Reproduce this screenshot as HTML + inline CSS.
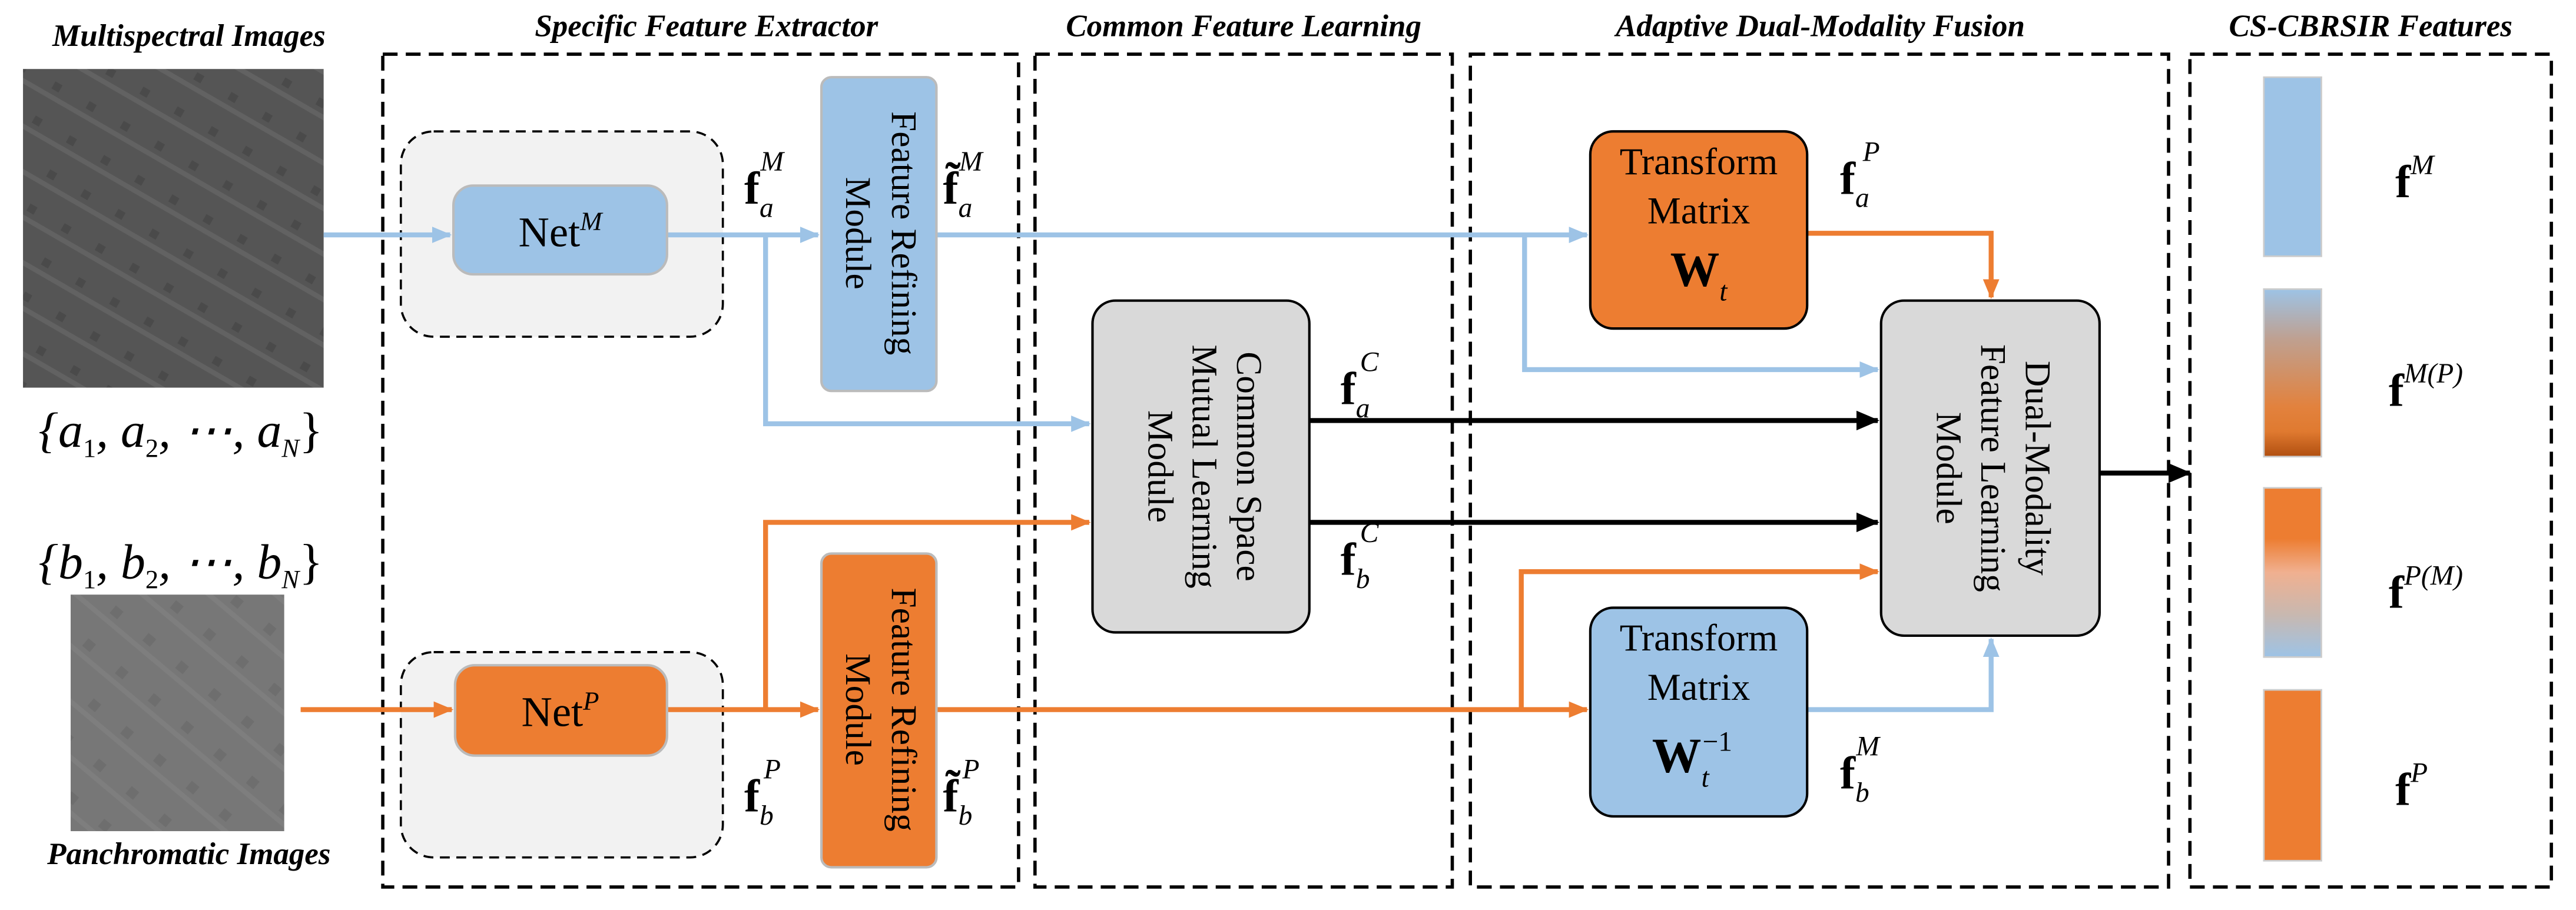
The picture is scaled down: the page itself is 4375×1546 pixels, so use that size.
<!DOCTYPE html>
<html><head><meta charset="utf-8"><style>
html,body{margin:0;padding:0;background:#fff;}
svg{display:block;font-family:"Liberation Serif","DejaVu Serif",serif;}
svg text{font-family:"Liberation Serif","DejaVu Serif",serif;}
.t{font-weight:bold;font-style:italic;font-size:19px;}
</style></head><body>
<svg width="4375" height="1546" viewBox="0 0 1568 554" preserveAspectRatio="none" xmlns="http://www.w3.org/2000/svg" font-family="Liberation Serif, serif">
<defs>
<marker id="ab" markerWidth="12" markerHeight="10" refX="11" refY="5" orient="auto" markerUnits="userSpaceOnUse"><path d="M0,0 L12,5 L0,10 z" fill="#9dc3e6"/></marker>
<marker id="ao" markerWidth="12" markerHeight="10" refX="11" refY="5" orient="auto" markerUnits="userSpaceOnUse"><path d="M0,0 L12,5 L0,10 z" fill="#ed7d31"/></marker>
<marker id="ak" markerWidth="14" markerHeight="12" refX="13" refY="6" orient="auto" markerUnits="userSpaceOnUse"><path d="M0,0 L14,6 L0,12 z" fill="#000"/></marker>
<linearGradient id="g1" x1="0" y1="0" x2="0" y2="1"><stop offset="0" stop-color="#9dc3e6"/><stop offset="0.3" stop-color="#bfa090"/><stop offset="0.7" stop-color="#e2823e"/><stop offset="0.85" stop-color="#e07a30"/><stop offset="1" stop-color="#b04f10"/></linearGradient>
<linearGradient id="g2" x1="0" y1="0" x2="0" y2="1"><stop offset="0" stop-color="#ed7d31"/><stop offset="0.3" stop-color="#ed7d31"/><stop offset="0.5" stop-color="#f0b090"/><stop offset="0.75" stop-color="#c8b8b0"/><stop offset="1" stop-color="#9dc3e6"/></linearGradient>
<pattern id="pm" width="24" height="24" patternUnits="userSpaceOnUse" patternTransform="rotate(30)"><rect width="24" height="24" fill="#555"/><rect y="10" width="24" height="3" fill="#626262"/><rect x="6" y="2" width="5" height="5" fill="#4a4a4a"/></pattern>
<pattern id="pp" width="26" height="26" patternUnits="userSpaceOnUse" patternTransform="rotate(40)"><rect width="26" height="26" fill="#777"/><rect y="12" width="26" height="3" fill="#7e7e7e"/><rect x="5" y="3" width="6" height="6" fill="#6e6e6e"/></pattern>
</defs>

<text class="t" x="115" y="28" text-anchor="middle">Multispectral Images</text>
<text class="t" x="115" y="526" text-anchor="middle">Panchromatic Images</text>
<text class="t" x="430" y="22" text-anchor="middle">Specific Feature Extractor</text>
<text class="t" x="757" y="22" text-anchor="middle">Common Feature Learning</text>
<text class="t" x="1108" y="22" text-anchor="middle">Adaptive Dual-Modality Fusion</text>
<text class="t" x="1443" y="22" text-anchor="middle">CS-CBRSIR Features</text>

<rect x="14" y="42" width="183" height="194" fill="url(#pm)"/>
<rect x="43" y="362" width="130" height="144" fill="url(#pp)"/>
<text x="110" y="272" text-anchor="middle" font-size="30" font-style="italic">{a<tspan font-size="16" font-style="normal" dy="6">1</tspan><tspan dy="-6">, a</tspan><tspan font-size="16" font-style="normal" dy="6">2</tspan><tspan dy="-6">, ⋯, a</tspan><tspan font-size="16" dy="6">N</tspan><tspan dy="-6" font-style="normal">}</tspan></text>
<text x="110" y="352" text-anchor="middle" font-size="30" font-style="italic">{b<tspan font-size="16" font-style="normal" dy="6">1</tspan><tspan dy="-6">, b</tspan><tspan font-size="16" font-style="normal" dy="6">2</tspan><tspan dy="-6">, ⋯, b</tspan><tspan font-size="16" dy="6">N</tspan><tspan dy="-6" font-style="normal">}</tspan></text>

<g fill="none" stroke="#000" stroke-width="2" stroke-dasharray="9,5">
<rect x="233" y="33" width="387" height="507"/>
<rect x="630" y="33" width="254" height="507"/>
<rect x="895" y="33" width="425" height="507"/>
<rect x="1333" y="33" width="220" height="507"/>
</g>
<g fill="#f2f2f2" stroke="#000" stroke-width="1.3" stroke-dasharray="6,4">
<rect x="244" y="80" width="196" height="125" rx="20"/>
<rect x="244" y="397" width="196" height="125" rx="20"/>
</g>

<g fill="none" stroke-width="3">
<path d="M197,143 H274" stroke="#9dc3e6" marker-end="url(#ab)"/>
<path d="M406,143 H498" stroke="#9dc3e6" marker-end="url(#ab)"/>
<path d="M466,143 V258 H663" stroke="#9dc3e6" marker-end="url(#ab)"/>
<path d="M570,143 H966" stroke="#9dc3e6" marker-end="url(#ab)"/>
<path d="M928,143 V225 H1143" stroke="#9dc3e6" marker-end="url(#ab)"/>
<path d="M1100,432 H1212 V389" stroke="#9dc3e6" marker-end="url(#ab)"/>
<path d="M183,432 H275" stroke="#ed7d31" marker-end="url(#ao)"/>
<path d="M406,432 H498" stroke="#ed7d31" marker-end="url(#ao)"/>
<path d="M466,432 V318 H663" stroke="#ed7d31" marker-end="url(#ao)"/>
<path d="M570,432 H966" stroke="#ed7d31" marker-end="url(#ao)"/>
<path d="M926,432 V348 H1143" stroke="#ed7d31" marker-end="url(#ao)"/>
<path d="M1100,142 H1212 V181" stroke="#ed7d31" marker-end="url(#ao)"/>
<path d="M797,256 H1143" stroke="#000" marker-end="url(#ak)"/>
<path d="M797,318 H1143" stroke="#000" marker-end="url(#ak)"/>
<path d="M1278,288 H1333" stroke="#000" marker-end="url(#ak)"/>
</g>

<rect x="276" y="113" width="130" height="54" rx="12" fill="#9dc3e6" stroke="#bbb" stroke-width="1.5"/>
<text x="341" y="150" text-anchor="middle" font-size="26">Net<tspan font-style="italic" font-size="16" dy="-10">M</tspan></text>
<rect x="277" y="405" width="129" height="55" rx="12" fill="#ed7d31" stroke="#bbb" stroke-width="1.5"/>
<text x="341" y="442" text-anchor="middle" font-size="26">Net<tspan font-style="italic" font-size="16" dy="-10">P</tspan></text>

<rect x="500" y="47" width="70" height="191" rx="6" fill="#9dc3e6" stroke="#bbb" stroke-width="1.5"/>
<text transform="translate(535,142) rotate(90)" text-anchor="middle" font-size="22"><tspan x="0" y="-8">Feature Refining</tspan><tspan x="0" y="20">Module</tspan></text>
<rect x="500" y="337" width="70" height="191" rx="6" fill="#ed7d31" stroke="#bbb" stroke-width="1.5"/>
<text transform="translate(535,432) rotate(90)" text-anchor="middle" font-size="22"><tspan x="0" y="-8">Feature Refining</tspan><tspan x="0" y="20">Module</tspan></text>

<rect x="665" y="183" width="132" height="202" rx="14" fill="#d9d9d9" stroke="#000" stroke-width="1.5"/>
<text transform="translate(731,284) rotate(90)" text-anchor="middle" font-size="22"><tspan x="0" y="-22">Common Space</tspan><tspan x="0" y="5">Mutual Learning</tspan><tspan x="0" y="32">Module</tspan></text>

<rect x="968" y="80" width="132" height="120" rx="14" fill="#ed7d31" stroke="#000" stroke-width="1.5"/>
<text x="1034" y="106" text-anchor="middle" font-size="23">Transform</text>
<text x="1034" y="136" text-anchor="middle" font-size="23">Matrix</text>
<text x="1034" y="174" text-anchor="middle" font-size="30" font-weight="bold">W<tspan font-size="17" font-weight="normal" font-style="italic" dy="9">t</tspan></text>
<rect x="968" y="370" width="132" height="127" rx="14" fill="#9dc3e6" stroke="#000" stroke-width="1.5"/>
<text x="1034" y="396" text-anchor="middle" font-size="23">Transform</text>
<text x="1034" y="426" text-anchor="middle" font-size="23">Matrix</text>
<text x="1030" y="470" text-anchor="middle" font-size="30" font-weight="bold">W<tspan font-size="17" font-weight="normal" font-style="italic" dy="9">t</tspan><tspan font-size="17" font-weight="normal" dx="-4" dy="-22">−1</tspan></text>

<rect x="1145" y="183" width="133" height="204" rx="14" fill="#d9d9d9" stroke="#000" stroke-width="1.5"/>
<text transform="translate(1211,285) rotate(90)" text-anchor="middle" font-size="22"><tspan x="0" y="-22">Dual-Modality</tspan><tspan x="0" y="5">Feature Learning</tspan><tspan x="0" y="32">Module</tspan></text>

<rect x="1378" y="47" width="35" height="109" fill="#9dc3e6" stroke="#ccc"/>
<rect x="1378" y="176" width="35" height="102" fill="url(#g1)" stroke="#ccc"/>
<rect x="1378" y="297" width="35" height="103" fill="url(#g2)" stroke="#ccc"/>
<rect x="1378" y="420" width="35" height="104" fill="#ed7d31" stroke="#ccc"/>

<g font-size="28">
<text x="453" y="124" font-weight="bold">f<tspan font-size="17" font-weight="normal" font-style="italic" dy="8">a</tspan><tspan font-size="17" font-weight="normal" font-style="italic" dx="-8" dy="-28">M</tspan></text>
<text x="574" y="124" font-weight="bold">f̃<tspan font-size="17" font-weight="normal" font-style="italic" dy="8">a</tspan><tspan font-size="17" font-weight="normal" font-style="italic" dx="-8" dy="-28">M</tspan></text>
<text x="453" y="494" font-weight="bold">f<tspan font-size="17" font-weight="normal" font-style="italic" dy="8">b</tspan><tspan font-size="17" font-weight="normal" font-style="italic" dx="-6" dy="-28">P</tspan></text>
<text x="574" y="494" font-weight="bold">f̃<tspan font-size="17" font-weight="normal" font-style="italic" dy="8">b</tspan><tspan font-size="17" font-weight="normal" font-style="italic" dx="-6" dy="-28">P</tspan></text>
<text x="816" y="246" font-weight="bold">f<tspan font-size="17" font-weight="normal" font-style="italic" dy="8">a</tspan><tspan font-size="17" font-weight="normal" font-style="italic" dx="-6" dy="-28">C</tspan></text>
<text x="816" y="350" font-weight="bold">f<tspan font-size="17" font-weight="normal" font-style="italic" dy="8">b</tspan><tspan font-size="17" font-weight="normal" font-style="italic" dx="-6" dy="-28">C</tspan></text>
<text x="1120" y="118" font-weight="bold">f<tspan font-size="17" font-weight="normal" font-style="italic" dy="8">a</tspan><tspan font-size="17" font-weight="normal" font-style="italic" dx="-4" dy="-28">P</tspan></text>
<text x="1120" y="480" font-weight="bold">f<tspan font-size="17" font-weight="normal" font-style="italic" dy="8">b</tspan><tspan font-size="17" font-weight="normal" font-style="italic" dx="-8" dy="-28">M</tspan></text>
<text x="1458" y="120" font-weight="bold">f<tspan font-size="17" font-weight="normal" font-style="italic" dy="-14">M</tspan></text>
<text x="1454" y="247" font-weight="bold">f<tspan font-size="17" font-weight="normal" font-style="italic" dy="-14">M(P)</tspan></text>
<text x="1454" y="370" font-weight="bold">f<tspan font-size="17" font-weight="normal" font-style="italic" dy="-14">P(M)</tspan></text>
<text x="1458" y="490" font-weight="bold">f<tspan font-size="17" font-weight="normal" font-style="italic" dy="-14">P</tspan></text>
</g>
</svg>
</body></html>
